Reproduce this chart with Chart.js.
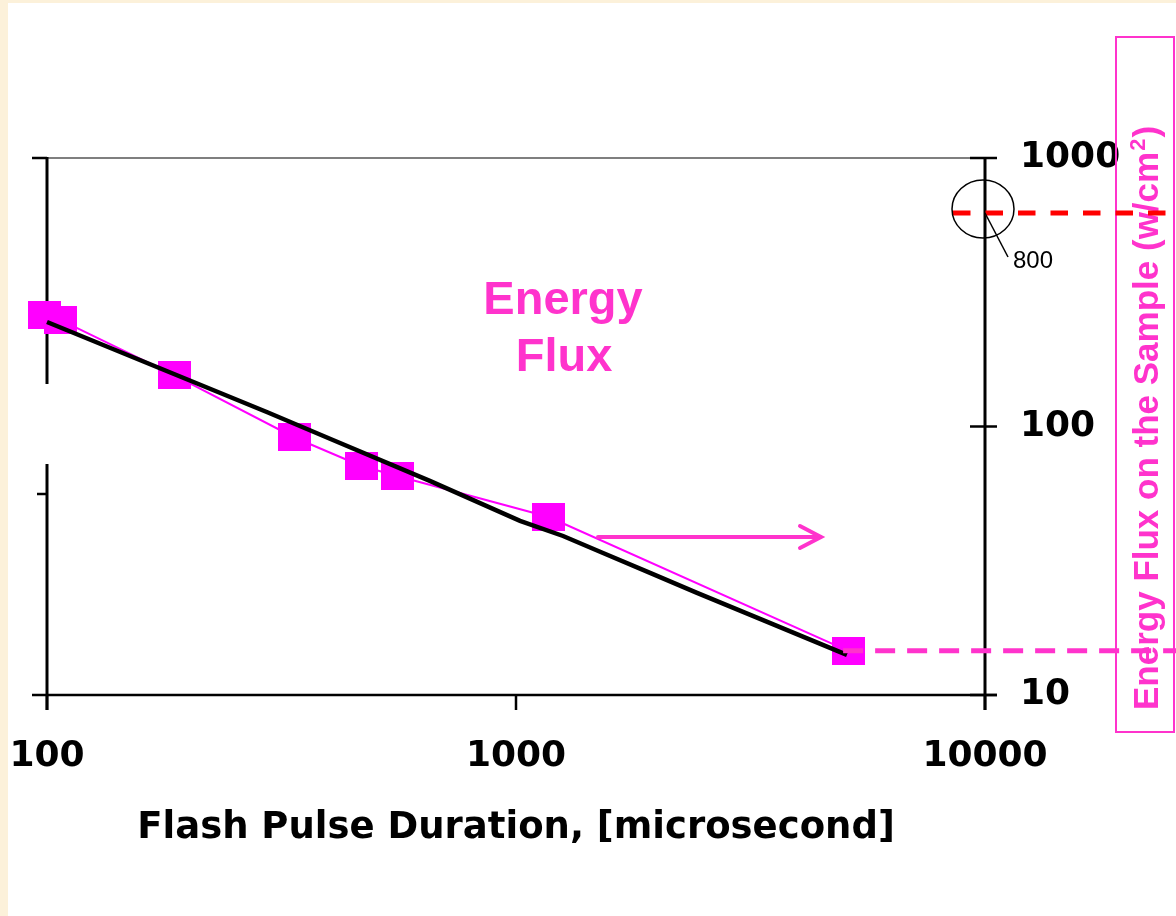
<!DOCTYPE html>
<html><head><meta charset="utf-8">
<script src="https://cdn.jsdelivr.net/npm/chart.js@4/dist/chart.umd.min.js"></script>
<style>html,body{margin:0;padding:0;background:#fcf1da;}canvas{display:block;}</style>
</head><body>
<canvas id="c" width="1176" height="916"></canvas>
<script>
// ---- data ----
const xTicks = [100, 1000, 10000];
const yTicks = [10, 100, 1000];
const pulseDuration = [99, 107, 187, 337, 468, 558, 1175, 5107];
const energyFlux = [260, 249, 155, 91, 71.3, 65.4, 46, 14.6];
const fitDuration = [100, 295, 407, 655, 1020, 1260, 1533, 1931, 2432, 3363, 5077];
const fitFlux = [245, 113, 89.1, 62.7, 44.5, 39.1, 33.8, 28.5, 24.0, 19.0, 14.1];
const thresholdFlux = 624;      // red dashed reference line (marked "800")
const thresholdLabel = '800';
const xTitle = 'Flash Pulse Duration, [microsecond]';
const yTitle = 'Energy Flux on the Sample (w/cm';
const seriesLabel = ['Energy', 'Flux'];

const PINK = '#FF33CC', MAG = '#FF00FF';
const marker = document.createElement('canvas');
marker.width = 33; marker.height = 28;
{ const m = marker.getContext('2d'); m.fillStyle = MAG; m.fillRect(0, 0, 33, 28); }

function line(c, x1, y1, x2, y2) { c.beginPath(); c.moveTo(x1, y1); c.lineTo(x2, y2); c.stroke(); }
function noPad(s) { s.paddingLeft = 0; s.paddingRight = 0; s.paddingTop = 0; s.paddingBottom = 0; }

const deco = {
  id: 'deco',
  beforeDraw(chart) {
    const c = chart.ctx; c.save();
    c.fillStyle = '#fcf1da'; c.fillRect(0, 0, chart.width, chart.height);
    c.fillStyle = '#ffffff'; c.fillRect(8, 3, chart.width - 8, chart.height - 3);
    c.restore();
  },
  beforeDatasetsDraw(chart) {
    const c = chart.ctx, xs = chart.scales.x, ys = chart.scales.y;
    const L = xs.getPixelForValue(xTicks[0]), R = xs.getPixelForValue(xTicks[xTicks.length - 1]);
    const T = ys.getPixelForValue(yTicks[yTicks.length - 1]), B = ys.getPixelForValue(yTicks[0]);
    c.save();
    c.strokeStyle = '#7f7f7f'; c.lineWidth = 2; line(c, L, T, R - 15, T);
    c.strokeStyle = '#000';
    c.lineWidth = 3;
    line(c, L, T - 1, L, 384); line(c, L, 464, L, B + 15);
    line(c, R, T - 1, R, B + 15);
    c.lineWidth = 2.5;
    line(c, L - 15, B, R + 12, B);
    line(c, L - 15, T, L, T); line(c, L - 10, 494, L, 494);
    yTicks.forEach(v => { const p = ys.getPixelForValue(v); line(c, R - 15, p, R + 12, p); });
    xTicks.forEach(v => { const p = xs.getPixelForValue(v); line(c, p, B, p, B + 15); });
    c.restore();
  },
  afterDatasetsDraw(chart) {
    const c = chart.ctx, xs = chart.scales.x, ys = chart.scales.y;
    const R = xs.getPixelForValue(xTicks[xTicks.length - 1]);
    c.save();
    // Energy Flux label
    c.fillStyle = PINK; c.textAlign = 'center'; c.textBaseline = 'alphabetic';
    c.font = 'bold 47px "Liberation Sans", Arial, sans-serif';
    c.fillText(seriesLabel[0], 563, 314);
    c.fillText(seriesLabel[1], 564, 371);
    // arrow
    c.strokeStyle = PINK; c.lineWidth = 4; c.lineCap = 'round';
    line(c, 598, 537, 820, 537);
    c.beginPath(); c.moveTo(800, 526); c.lineTo(821, 537); c.lineTo(800, 548); c.stroke();
    c.lineCap = 'butt';
    // right box + rotated title
    c.lineWidth = 2; c.strokeRect(1116, 37, 58, 695);
    c.save();
    c.translate(1158, 710); c.rotate(-Math.PI / 2);
    c.textAlign = 'left';
    c.font = 'bold 35px "Liberation Sans", Arial, sans-serif';
    c.fillText(yTitle, 0, 0);
    let w = c.measureText(yTitle).width;
    c.font = 'bold 22px "Liberation Sans", Arial, sans-serif';
    c.fillText('2', w + 1, -13);
    w += c.measureText('2').width + 2;
    c.font = 'bold 35px "Liberation Sans", Arial, sans-serif';
    c.fillText(')', w, 0);
    c.restore();
    // magenta dashed line at last point
    const lastX = xs.getPixelForValue(pulseDuration[pulseDuration.length - 1]);
    const lastY = ys.getPixelForValue(energyFlux[energyFlux.length - 1]);
    c.setLineDash([20, 12]); c.lineWidth = 5; c.strokeStyle = PINK;
    line(c, lastX - 5, lastY, chart.width, lastY);
    // red dashed threshold line
    const ty = ys.getPixelForValue(thresholdFlux);
    c.setLineDash([17.5, 15]); c.strokeStyle = '#FF0000';
    line(c, 953, ty, 1168, ty);
    c.setLineDash([]);
    // circle + leader + label
    c.strokeStyle = '#000'; c.lineWidth = 1.5;
    c.beginPath(); c.ellipse(R - 2, ty - 4, 31, 29, 0, 0, Math.PI * 2); c.stroke();
    line(c, R, ty, 1008, 257);
    c.fillStyle = '#000'; c.textAlign = 'left';
    c.font = '24px "Liberation Sans", Arial, sans-serif';
    c.fillText(thresholdLabel, 1013, 268);
    c.restore();
  }
};

new Chart(document.getElementById('c'), {
  type: 'scatter',
  data: {
    datasets: [
      { label: 'fit', data: fitDuration.map((x, i) => ({ x, y: fitFlux[i] })),
        showLine: true, borderColor: '#000', borderWidth: 4.5, pointRadius: 0, order: 0, clip: false },
      { label: 'Energy Flux', data: pulseDuration.map((x, i) => ({ x, y: energyFlux[i] })),
        showLine: true, borderColor: MAG, borderWidth: 2, pointStyle: marker, pointRadius: 16,
        backgroundColor: MAG, order: 1, clip: false }
    ]
  },
  options: {
    responsive: false, animation: false, devicePixelRatio: 1,
    layout: { padding: { left: 47, top: 158, right: 0, bottom: 0 } },
    plugins: { legend: { display: false }, tooltip: { enabled: false } },
    scales: {
      x: {
        type: 'logarithmic', position: 'bottom', min: 100, max: 10000,
        afterBuildTicks: s => { s.ticks = xTicks.map(v => ({ value: v })); },
        afterFit: s => { s.height = 221; noPad(s); },
        grid: { display: false, drawTicks: false }, border: { display: false },
        ticks: { padding: 40, autoSkip: false, maxRotation: 0, color: '#000',
          font: { family: 'DejaVu Sans', weight: 'bold', size: 36 }, callback: v => String(v) },
        title: { display: true, text: xTitle, color: '#000',
          font: { family: 'DejaVu Sans', weight: 'bold', size: 37 }, padding: { top: 0, bottom: 65 } }
      },
      y: {
        type: 'logarithmic', position: 'right', min: 10, max: 1000,
        afterBuildTicks: s => { s.ticks = yTicks.map(v => ({ value: v })); },
        afterFit: s => { s.width = 191; noPad(s); },
        grid: { display: false, drawTicks: false }, border: { display: false },
        ticks: { padding: 35, autoSkip: false, color: '#000',
          font: { family: 'DejaVu Sans', weight: 'bold', size: 36 }, callback: v => String(v) }
      }
    }
  },
  plugins: [deco]
});
</script>
</body></html>
